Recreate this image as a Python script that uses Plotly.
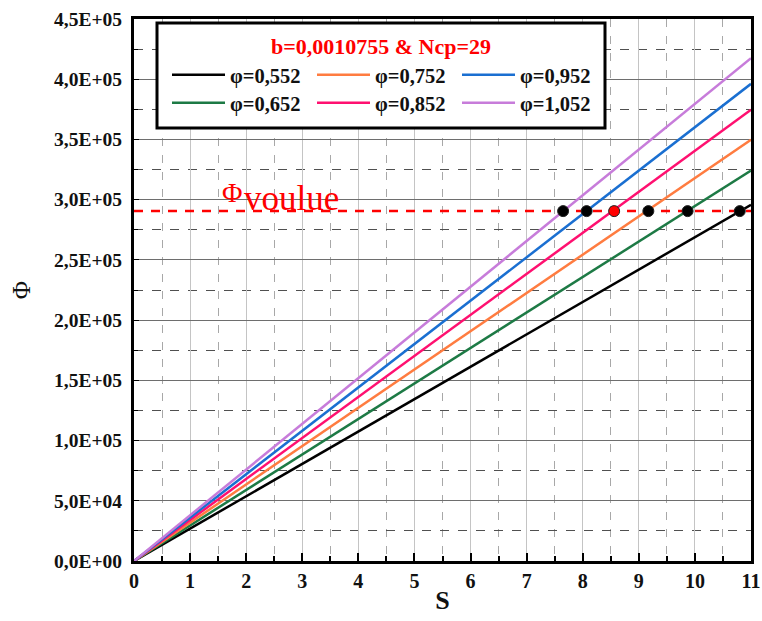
import plotly.graph_objects as go

# ---- data ----
S_ENDS = [0, 11]
PHI_LABELS = ["φ=0,552", "φ=0,652", "φ=0,752", "φ=0,852", "φ=0,952", "φ=1,052"]
PHI_AT_S11 = [295700, 324200, 349700, 374600, 396200, 417500]
LINE_COLORS = ["#000000", "#1D7A45", "#FF7C40", "#FF1070", "#1A6FD1", "#C77CDA"]
PHI_VOULUE = 290500
DOT_S = [10.80, 9.87, 9.17, 8.56, 8.07, 7.65]
DOT_COLORS = ["#000000", "#000000", "#000000", "#FF0000", "#000000", "#000000"]
Y_TICKVALS = [0, 50000, 100000, 150000, 200000, 250000, 300000, 350000, 400000, 450000]
Y_TICKTEXT = ["0,0E+00", "5,0E+04", "1,0E+05", "1,5E+05", "2,0E+05",
              "2,5E+05", "3,0E+05", "3,5E+05", "4,0E+05", "4,5E+05"]
X_TICKVALS = list(range(0, 12))
LEGEND_TITLE = "b=0,0010755 &amp; Ncp=29"

SERIF = "Liberation Serif, Times New Roman, serif"

fig = go.Figure()

# legend slot per series (3 columns x 2 rows, row-major order in the reference)
legend_names = ["legend", "legend4", "legend2", "legend5", "legend3", "legend6"]

for i, (lab, end, col) in enumerate(zip(PHI_LABELS, PHI_AT_S11, LINE_COLORS)):
    fig.add_trace(go.Scatter(
        x=S_ENDS, y=[0, end], mode="lines", name=lab,
        line=dict(color=col, width=2.5),
        legend=legend_names[i], showlegend=True, hoverinfo="skip"))

# required flux line
fig.add_trace(go.Scatter(
    x=S_ENDS, y=[PHI_VOULUE, PHI_VOULUE], mode="lines",
    line=dict(color="#FF0000", width=2.5, dash="9px,8px"),
    showlegend=False, hoverinfo="skip"))

# intersection dots
fig.add_trace(go.Scatter(
    x=DOT_S, y=[PHI_VOULUE] * len(DOT_S), mode="markers",
    marker=dict(color=DOT_COLORS, size=11, line=dict(color="#222222", width=1)),
    showlegend=False, hoverinfo="skip"))

W, H = 762, 621
L, R, T, B = 134, 11, 19, 60
pw = W - L - R
ph = H - T - B

def px2paper_x(px):
    return (px - L) / pw

def px2paper_y(py):
    return (H - B - py) / ph

col_x = [167, 312, 457]
row_y = [55, 83]
legends = {}
slots = [("legend", 0, 0), ("legend2", 1, 0), ("legend3", 2, 0),
         ("legend4", 0, 1), ("legend5", 1, 1), ("legend6", 2, 1)]
for name, c, r in slots:
    legends[name] = dict(
        x=px2paper_x(col_x[c]), y=px2paper_y(row_y[r]),
        xanchor="left", yanchor="top", bgcolor="rgba(0,0,0,0)",
        borderwidth=0, itemwidth=53,
        font=dict(family=SERIF, size=20.5, color="#111111", weight="bold"))

fig.update_layout(**legends)

fig.update_layout(
    width=W, height=H,
    margin=dict(l=L, r=R, t=T, b=B, autoexpand=False),
    paper_bgcolor="white", plot_bgcolor="white",
    font=dict(family=SERIF, color="#111111"),
    xaxis=dict(
        range=[0, 11], tickvals=X_TICKVALS, showgrid=True, automargin=False,
        gridcolor="#c4c4c4", gridwidth=1,
        ticks="inside", ticklen=8, tickwidth=2, tickcolor="#000000",
        showline=True, linewidth=3, linecolor="#000000", mirror=True,
        tickfont=dict(family=SERIF, size=20, weight="bold", color="#111111"),
        zeroline=False,
        minor=dict(dtick=0.5, tick0=0, showgrid=True, griddash="8px,9px",
                   gridcolor="#a8a8a8", gridwidth=1,
                   ticks="inside", ticklen=5, tickwidth=2, tickcolor="#000000"),
        title=dict(text="S", font=dict(family=SERIF, size=26, weight="bold", color="#111111"),
                   standoff=0),
    ),
    yaxis=dict(
        range=[0, 450000], tickvals=Y_TICKVALS, ticktext=Y_TICKTEXT, showgrid=True,
        automargin=False,
        gridcolor="#6e6e6e", gridwidth=1,
        ticks="inside", ticklen=5, tickwidth=1, tickcolor="#000000",
        showline=True, linewidth=3, linecolor="#000000", mirror=True,
        tickfont=dict(family=SERIF, size=19.5, weight="bold", color="#111111"),
        ticklabelstandoff=5,
        zeroline=False,
        minor=dict(dtick=25000, tick0=0, showgrid=True, griddash="9px,9px",
                   gridcolor="#505050", gridwidth=1,
                   ticks="inside", ticklen=4, tickwidth=1, tickcolor="#000000"),
        title=dict(text="Φ", font=dict(family=SERIF, size=25, color="#111111"),
                   standoff=17),
    ),
)

# legend frame
fig.add_shape(type="rect", xref="paper", yref="paper",
              x0=px2paper_x(157), x1=px2paper_x(605),
              y0=px2paper_y(128), y1=px2paper_y(23),
              line=dict(color="#000000", width=3), fillcolor="white", layer="above")

fig.add_annotation(text=LEGEND_TITLE, xref="paper", yref="paper",
                   x=px2paper_x(381), y=px2paper_y(47), xanchor="center", yanchor="middle",
                   showarrow=False,
                   font=dict(family=SERIF, size=22, weight="bold", color="#FF0000"))

# Φ voulue label (Φ + large subscript)
fig.add_annotation(text="Φ", xref="x", yref="y",
                   x=1.53, y=PHI_VOULUE, xanchor="left", yanchor="middle",
                   yshift=19, showarrow=False,
                   font=dict(family=SERIF, size=28, color="#FF0000"))
fig.add_annotation(text="voulue", xref="x", yref="y",
                   x=1.92, y=PHI_VOULUE, xanchor="left", yanchor="middle",
                   yshift=13, showarrow=False,
                   font=dict(family=SERIF, size=35, color="#FF0000"))

fig.write_html("out.html", config={"displayModeBar": False},
               post_script="document.body.style.margin='0';document.body.style.padding='0';")
